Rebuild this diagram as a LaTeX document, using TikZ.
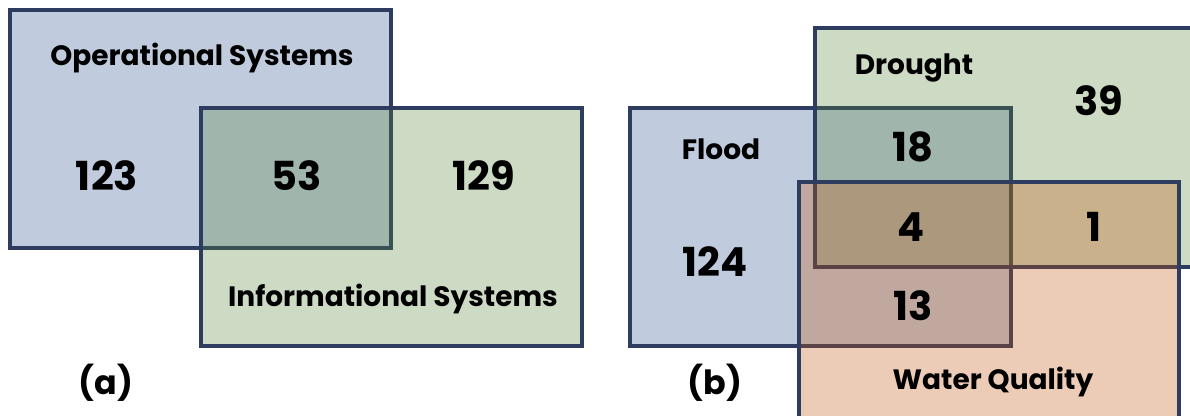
\documentclass[tikz,border=0pt]{standalone}
\usepackage{fontspec}
\setmainfont{Poppins}
\definecolor{bluebase}{RGB}{45,85,145}
\definecolor{greenbase}{RGB}{88,132,58}
\definecolor{peachbase}{RGB}{195,85,15}
\definecolor{edgecol}{RGB}{46,60,96}
\tikzset{
  vbox/.style={draw=edgecol, line width=2.3pt, fill opacity=0.3},
  lbl/.style={font=\bfseries\fontsize{21}{24}\selectfont, inner sep=0pt},
  num/.style={font=\bfseries\fontsize{30}{34}\selectfont, inner sep=0pt},
  panellbl/.style={font=\bfseries\fontsize{25}{28}\selectfont, inner sep=0pt}
}
\begin{document}
\begin{tikzpicture}[x=0.75pt,y=-0.75pt]
\useasboundingbox (0,0) rectangle (1190,416);
\clip (0,0) rectangle (1190,416);
% panel (a)
\path[vbox, fill=bluebase] (10,10) rectangle (391,248);
\path[vbox, fill=greenbase] (201,108) rectangle (582,346);
\node[lbl] (os) at (202,58) {Operational Systems};
\node[num] (n123) at (107,176) {123};
\node[num] (n53) at (297,176) {53};
\node[num] (n129) at (484,176) {129};
\node[lbl] (is) at (393,299) {Informational Systems};
\node[panellbl] (a) at (106,383) {(a)};
% panel (b)
\path[vbox, fill=bluebase] (630,108) rectangle (1011,346);
\path[vbox, fill=greenbase] (815,28) rectangle (1205,267);
\path[vbox, fill=peachbase] (799,182) rectangle (1179,430);
\node[lbl] (dr) at (914,68) {Drought};
\node[num] (n39) at (1099,101) {39};
\node[lbl] (fl) at (721,149) {Flood};
\node[num] (n18) at (913,147) {18};
\node[num] (n4) at (911,227) {4};
\node[num] (n1) at (1094,227) {1};
\node[num] (n124) at (715,262) {124};
\node[num] (n13) at (913,306) {13};
\node[panellbl] (b) at (715,383) {(b)};
\node[lbl] (wq) at (993,382) {Water Quality};
\end{tikzpicture}
\end{document}
